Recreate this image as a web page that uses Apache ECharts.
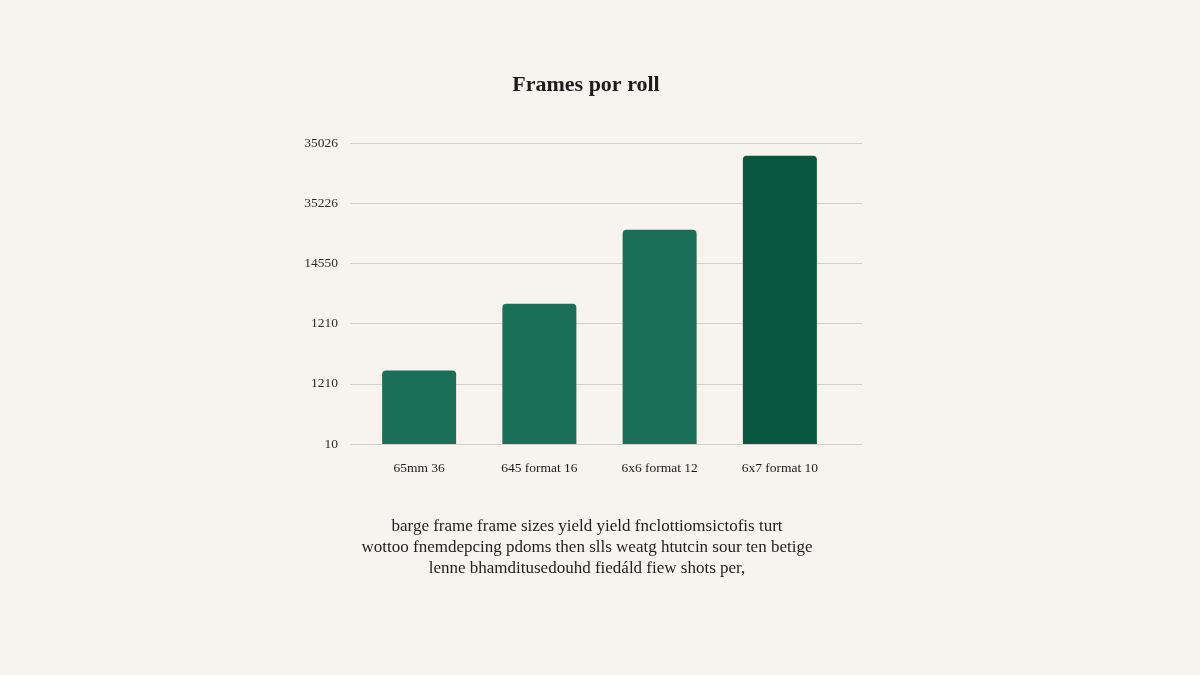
<!DOCTYPE html>
<html>
<head>
<meta charset="utf-8">
<style>
  html, body { margin: 0; padding: 0; background: #f7f4ef; }
  #chart { width: 1200px; height: 675px; }
</style>
<script src="https://cdn.jsdelivr.net/npm/echarts@6/dist/echarts.min.js"></script>
</head>
<body>
<div id="chart"></div>
<script>
// ---- data ----
var titleText = 'Frames por roll';
var categories = ['65mm 36', '645 format 16', '6x6 format 12', '6x7 format 10'];
var values = [1.22, 2.33, 3.56, 4.79];
var yTickLabels = ['10', '1210', '1210', '14550', '35226', '35026'];
var captionLines = [
  'barge frame frame sizes yield yield fnclottiomsictofis turt',
  'wottoo fnemdepcing pdoms then slls weatg htutcin sour ten betige',
  'lenne bhamditusedouhd fiedáld fiew shots per,'
];
var barColors = ['#1b6e58', '#1b6e58', '#1b6e58', '#07563f'];

var serif = '"Liberation Serif", "DejaVu Serif", serif';

var chart = echarts.init(document.getElementById('chart'));
chart.setOption({
  backgroundColor: '#f7f4ef',
  animation: false,
  graphic: [
    {
      type: 'text', x: 586, y: 85,
      style: {
        text: titleText, align: 'center', verticalAlign: 'middle',
        font: 'bold 22px ' + serif, fill: '#1c1c1c'
      }
    },
    {
      type: 'text', x: 587, y: 548,
      style: {
        text: captionLines.join('\n'), align: 'center', verticalAlign: 'middle',
        font: '17px ' + serif, lineHeight: 21, fill: '#1e1e1e'
      }
    }
  ],
  grid: [
    { left: 350, right: 338, top: 143, height: 301 },
    { left: 359, right: 360, top: 143, height: 301 }
  ],
  xAxis: [
    {
      gridIndex: 0, type: 'value', min: 0, max: 1, show: false
    },
    {
      gridIndex: 1, type: 'category', data: categories,
      axisLine: { show: false }, axisTick: { show: false },
      axisLabel: { margin: 17, fontFamily: serif, fontSize: 13.5, color: '#1a1a1a' }
    }
  ],
  yAxis: [
    {
      gridIndex: 0, type: 'value', min: 0, max: 5, interval: 1,
      axisLine: { show: false }, axisTick: { show: false },
      axisLabel: {
        margin: 12, fontFamily: serif, fontSize: 13.5, color: '#2a2a2a',
        formatter: function (v) { return yTickLabels[Math.round(v)]; }
      },
      splitLine: { lineStyle: { color: '#d4d1cc', width: 1.2 } }
    },
    {
      gridIndex: 1, type: 'value', min: 0, max: 5, interval: 1, show: false,
      splitLine: { show: false }
    }
  ],
  series: [
    {
      type: 'bar',
      xAxisIndex: 1, yAxisIndex: 1,
      barWidth: 74,
      data: values.map(function (v, i) {
        return { value: v, itemStyle: { color: barColors[i], borderRadius: [4, 4, 0, 0] } };
      })
    }
  ]
});
</script>
</body>
</html>
